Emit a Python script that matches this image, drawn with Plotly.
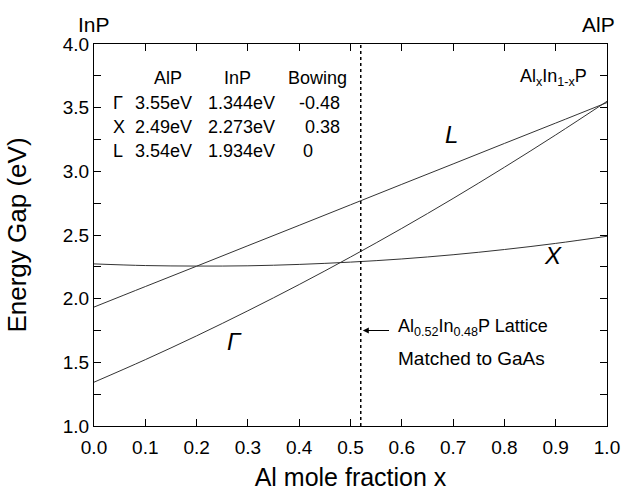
import plotly.graph_objects as go

x_frac = [0.0, 0.1, 0.2, 0.3, 0.4, 0.5, 0.6, 0.7, 0.8, 0.9, 1.0]
gamma_gap = [1.344, 1.521, 1.708, 1.905, 2.111, 2.327, 2.552, 2.787, 3.032, 3.286, 3.55]
x_gap = [2.273, 2.260, 2.256, 2.258, 2.269, 2.287, 2.312, 2.345, 2.386, 2.434, 2.49]
l_gap = [1.934, 2.095, 2.255, 2.416, 2.576, 2.737, 2.898, 3.058, 3.219, 3.379, 3.54]
lattice_x = 0.52

x_ticks = [0.0, 0.1, 0.2, 0.3, 0.4, 0.5, 0.6, 0.7, 0.8, 0.9, 1.0]
y_ticks = [1.0, 1.5, 2.0, 2.5, 3.0, 3.5, 4.0]

table_header = ["AlP", "InP", "Bowing"]
table_symbols = ["Γ", "X", "L"]
table_alp = ["3.55eV", "2.49eV", "3.54eV"]
table_inp = ["1.344eV", "2.273eV", "1.934eV"]
table_bow = ["-0.48", "0.38", "0"]

FONT = "Arial"
line_style = dict(color="#333333", width=1)

fig = go.Figure()
for name, ys in [("Gamma", gamma_gap), ("X", x_gap), ("L", l_gap)]:
    fig.add_trace(go.Scatter(x=x_frac, y=ys, mode="lines", name=name,
                             line=dict(shape="spline", **line_style),
                             showlegend=False, hoverinfo="skip"))
fig.add_trace(go.Scatter(x=[lattice_x, lattice_x], y=[1.0, 4.0], mode="lines",
                         line=dict(color="black", width=1.5, dash="dot"),
                         showlegend=False, hoverinfo="skip"))

ann = []
def txt(x, y, s, size=18, xanchor="left", italic=False, xref="x", yref="y",
        xshift=0, yanchor="middle", yshift=0):
    ann.append(dict(x=x, y=y, xref=xref, yref=yref, text=s, showarrow=False,
                    xanchor=xanchor, yanchor=yanchor, xshift=xshift, yshift=yshift,
                    font=dict(family=FONT, size=size, color="black",
                              style="italic" if italic else "normal")))

# table
hdr_x = [0.145, 0.279, 0.436]
for hx, h in zip(hdr_x, table_header):
    txt(hx, 3.733, h, xanchor="center")
row_y = [3.537, 3.346, 3.158]
bow_x = [0.396, 0.408, 0.404]
for i in range(3):
    txt(0.033, row_y[i], table_symbols[i])
    txt(0.076, row_y[i], table_alp[i])
    txt(0.219, row_y[i], table_inp[i])
    txt(bow_x[i], row_y[i], table_bow[i])

# curve labels
txt(0.697, 3.29, "L", size=24, xanchor="center", italic=True)
txt(0.894, 2.34, "X", size=24, xanchor="center", italic=True)
txt(0.274, 1.66, "Γ", size=24, xanchor="center", italic=True)

# compound label
txt(0.965, 3.74, "Al<sub>x</sub>In<sub>1-x</sub>P", size=18, xanchor="right")

# lattice-matched note
txt(0.589, 1.777, "Al<sub>0.52</sub>In<sub>0.48</sub>P Lattice", size=18)
txt(0.589, 1.528, "Matched to GaAs", size=19)
ann.append(dict(x=lattice_x + 0.004, y=1.75, ax=0.578, ay=1.75, xref="x", yref="y",
                axref="x", ayref="y", showarrow=True, arrowhead=2, arrowsize=1,
                arrowwidth=1.2, arrowcolor="black", text=""))

# top labels
txt(0.0, 1.0, "InP", size=21, xanchor="center", yref="paper", yanchor="bottom", yshift=6)
txt(1.0, 1.0, "AlP", size=21, xanchor="right", xref="paper", yref="paper",
    xshift=10, yanchor="bottom", yshift=6)

fig.update_layout(
    width=621, height=491,
    margin=dict(l=94, r=14, t=44, b=65),
    paper_bgcolor="white", plot_bgcolor="white",
    font=dict(family=FONT, color="black"),
    annotations=ann,
    xaxis=dict(range=[0, 1], tickvals=x_ticks, ticktext=[f"{v:.1f}" for v in x_ticks],
               ticks="inside", ticklen=7, tickwidth=1, tickcolor="black",
               showline=True, linecolor="black", linewidth=1.2, mirror="ticks",
               showgrid=False, zeroline=False, ticklabelstandoff=4, automargin=False,
               tickfont=dict(size=19, family=FONT),
               title=dict(text="Al mole fraction x", font=dict(size=25, family=FONT), standoff=20)),
    yaxis=dict(range=[1, 4], tickvals=y_ticks, ticktext=[f"{v:.1f}" for v in y_ticks],
               ticks="inside", ticklen=7, tickwidth=1, tickcolor="black",
               minor=dict(dtick=0.25, tick0=1.0, ticks="inside", ticklen=7, tickcolor="black", showgrid=False),
               showline=True, linecolor="black", linewidth=1.2, mirror="ticks",
               showgrid=False, zeroline=False, automargin=False,
               tickfont=dict(size=19, family=FONT),
               title=dict(text="Energy Gap (eV)", font=dict(size=26, family=FONT), standoff=28)),
)

fig.write_html("out.html")
